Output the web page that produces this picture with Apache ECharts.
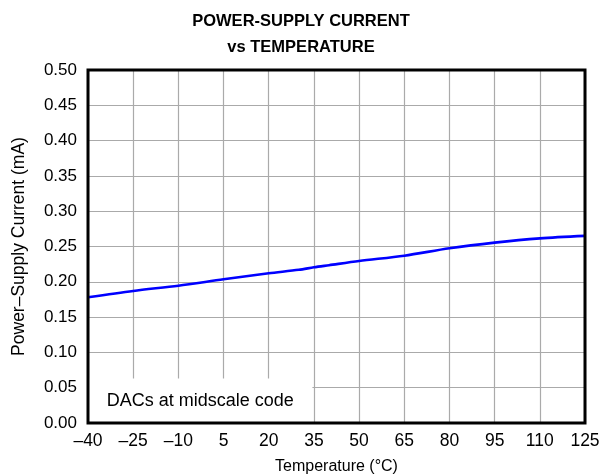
<!DOCTYPE html>
<html>
<head>
<meta charset="utf-8">
<script src="https://cdn.jsdelivr.net/npm/echarts@6/dist/echarts.min.js"></script>
<style>
  html, body { margin: 0; padding: 0; background: #fff; }
  #chart { width: 602px; height: 474px; }
</style>
</head>
<body>
<div id="chart"></div>
<script>
// Supply current versus ambient temperature
const temperatures = [-40, -25, -10, 5, 20, 30, 35, 40, 50, 65, 80, 95, 110, 125];
const supplyCurrent = [0.178, 0.187, 0.1945, 0.2035, 0.212, 0.217, 0.2205, 0.2235, 0.2295, 0.237, 0.2475, 0.2555, 0.2615, 0.265];

// Axis ranges and tick labels
const X_MIN = -40, X_MAX = 125, X_STEP = 15;
const Y_MIN = 0, Y_MAX = 0.5, Y_STEP = 0.05;
const noteText = 'DACs at midscale code';
const noteRange = { tFrom: -40, tTo: 34.5, iFrom: 0, iTo: 0.063 };

// The x axis is laid out as an offset from X_MIN so ticks begin at -40
const toAxisX = t => t - X_MIN;
const lineData = temperatures.map((t, i) => [toAxisX(t), supplyCurrent[i]]);
const fmtTemp = v => {
  const t = Math.round(v + X_MIN);
  return t < 0 ? '\u2013' + Math.abs(t) : String(t);
};

const FONT = '"Liberation Sans", Arial, Helvetica, sans-serif';
const chart = echarts.init(document.getElementById('chart'), null, { renderer: 'canvas' });

chart.setOption({
  animation: false,
  backgroundColor: '#ffffff',
  title: {
    text: 'POWER-SUPPLY CURRENT\nvs TEMPERATURE',
    left: 'center',
    top: 3,
    textStyle: { fontFamily: FONT, fontWeight: 'bold', fontSize: 16.5, color: '#000', lineHeight: 26 }
  },
  grid: {
    left: 88, right: 17, top: 70, bottom: 51,
    outerBoundsMode: 'none',
    containLabel: false,
    show: true, borderColor: '#000', borderWidth: 3, z: 5,
    backgroundColor: 'transparent'
  },
  xAxis: {
    type: 'value',
    min: 0, max: X_MAX - X_MIN, interval: X_STEP,
    name: 'Temperature (\u00B0C)',
    nameLocation: 'middle',
    nameGap: 36,
    nameTextStyle: { fontFamily: FONT, fontSize: 16, color: '#000' },
    axisLine: { show: false },
    axisTick: { show: false },
    axisLabel: { formatter: fmtTemp, fontFamily: FONT, fontSize: 17.5, color: '#000', margin: 9 },
    splitLine: { show: true, lineStyle: { color: '#aaaaaa', width: 1.2 } }
  },
  yAxis: {
    type: 'value',
    min: Y_MIN, max: Y_MAX, interval: Y_STEP,
    name: 'Power\u2013Supply Current (mA)',
    nameLocation: 'middle',
    nameGap: 60,
    nameTextStyle: { fontFamily: FONT, fontSize: 17.5, color: '#000' },
    axisLine: { show: false },
    axisTick: { show: false },
    axisLabel: { formatter: v => v.toFixed(2), fontFamily: FONT, fontSize: 17, color: '#000', margin: 11 },
    splitLine: { show: true, lineStyle: { color: '#aaaaaa', width: 1.2 } }
  },
  series: [{
    type: 'line',
    data: lineData,
    showSymbol: false,
    smooth: 0.3,
    lineStyle: { color: '#0000ff', width: 2.6 },
    markArea: {
      silent: true,
      itemStyle: { color: '#ffffff', opacity: 1 },
      label: {
        show: true, position: 'inside',
        fontFamily: FONT, fontSize: 18, color: '#000'
      },
      data: [[
        { name: noteText, coord: [toAxisX(noteRange.tFrom), noteRange.iFrom] },
        { coord: [toAxisX(noteRange.tTo), noteRange.iTo] }
      ]]
    }
  }]
});
</script>
</body>
</html>
